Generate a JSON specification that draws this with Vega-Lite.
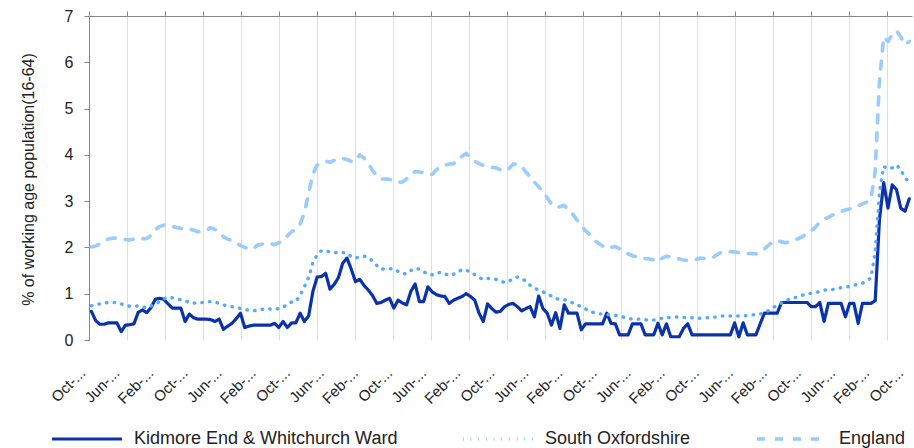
{
 "$schema": "https://vega.github.io/schema/vega-lite/v6.json",
 "width": 823, "height": 324,
 "autosize": {"type": "none"},
 "padding": {"left": 89, "top": 16, "right": 2, "bottom": 108},
 "background": "white",
 "config": {"view": {"stroke": null}, "font": "Liberation Sans"},
 "data": {"values": [
{"m":0,"k":0.62,"o":0.74,"e":2.01},{"m":1,"k":0.42,"o":0.76,"e":2.03},{"m":2,"k":0.34,"o":0.78,"e":2.08},{"m":3,"k":0.34,"o":0.8,"e":2.15},{"m":4,"k":0.37,"o":0.81,"e":2.18},{"m":5,"k":0.37,"o":0.81,"e":2.2},{"m":6,"k":0.37,"o":0.81,"e":2.2},{"m":7,"k":0.18,"o":0.78,"e":2.18},{"m":8,"k":0.32,"o":0.75,"e":2.17},{"m":9,"k":0.33,"o":0.73,"e":2.16},
{"m":10,"k":0.35,"o":0.72,"e":2.18},{"m":11,"k":0.6,"o":0.74,"e":2.2},{"m":12,"k":0.65,"o":0.72,"e":2.19},{"m":13,"k":0.59,"o":0.69,"e":2.19},{"m":14,"k":0.7,"o":0.73,"e":2.26},{"m":15,"k":0.88,"o":0.78,"e":2.38},{"m":16,"k":0.9,"o":0.83,"e":2.45},{"m":17,"k":0.88,"o":0.89,"e":2.48},{"m":18,"k":0.78,"o":0.93,"e":2.47},{"m":19,"k":0.69,"o":0.91,"e":2.45},
{"m":20,"k":0.69,"o":0.89,"e":2.43},{"m":21,"k":0.69,"o":0.87,"e":2.41},{"m":22,"k":0.4,"o":0.85,"e":2.41},{"m":23,"k":0.56,"o":0.81,"e":2.4},{"m":24,"k":0.48,"o":0.8,"e":2.37},{"m":25,"k":0.45,"o":0.79,"e":2.34},{"m":26,"k":0.45,"o":0.81,"e":2.34},{"m":27,"k":0.45,"o":0.83,"e":2.36},{"m":28,"k":0.44,"o":0.83,"e":2.43},{"m":29,"k":0.4,"o":0.82,"e":2.39},
{"m":30,"k":0.45,"o":0.79,"e":2.32},{"m":31,"k":0.23,"o":0.76,"e":2.23},{"m":32,"k":0.3,"o":0.73,"e":2.18},{"m":33,"k":0.36,"o":0.72,"e":2.15},{"m":34,"k":0.46,"o":0.71,"e":2.1},{"m":35,"k":0.58,"o":0.68,"e":2.04},{"m":36,"k":0.27,"o":0.66,"e":2.0},{"m":37,"k":0.3,"o":0.64,"e":1.97},{"m":38,"k":0.32,"o":0.63,"e":1.97},{"m":39,"k":0.32,"o":0.65,"e":2.05},
{"m":40,"k":0.32,"o":0.66,"e":2.07},{"m":41,"k":0.32,"o":0.68,"e":2.09},{"m":42,"k":0.32,"o":0.67,"e":2.08},{"m":43,"k":0.36,"o":0.66,"e":2.06},{"m":44,"k":0.27,"o":0.68,"e":2.1},{"m":45,"k":0.4,"o":0.71,"e":2.16},{"m":46,"k":0.27,"o":0.77,"e":2.25},{"m":47,"k":0.37,"o":0.82,"e":2.34},{"m":48,"k":0.37,"o":0.83,"e":2.39},{"m":49,"k":0.58,"o":0.97,"e":2.5},
{"m":50,"k":0.4,"o":1.15,"e":2.75},{"m":51,"k":0.52,"o":1.35,"e":3.18},{"m":52,"k":1.05,"o":1.67,"e":3.58},{"m":53,"k":1.36,"o":1.84,"e":3.78},{"m":54,"k":1.37,"o":1.93,"e":3.84},{"m":55,"k":1.44,"o":1.93,"e":3.86},{"m":56,"k":1.1,"o":1.9,"e":3.84},{"m":57,"k":1.2,"o":1.88,"e":3.88},{"m":58,"k":1.35,"o":1.9,"e":3.93},{"m":59,"k":1.66,"o":1.89,"e":3.92},
{"m":60,"k":1.77,"o":1.88,"e":3.9},{"m":61,"k":1.53,"o":1.8,"e":3.86},{"m":62,"k":1.26,"o":1.77,"e":3.86},{"m":63,"k":1.31,"o":1.8,"e":4.0},{"m":64,"k":1.18,"o":1.81,"e":3.93},{"m":65,"k":1.08,"o":1.78,"e":3.82},{"m":66,"k":0.96,"o":1.71,"e":3.66},{"m":67,"k":0.79,"o":1.61,"e":3.55},{"m":68,"k":0.81,"o":1.53,"e":3.48},{"m":69,"k":0.86,"o":1.54,"e":3.48},
{"m":70,"k":0.9,"o":1.54,"e":3.47},{"m":71,"k":0.69,"o":1.54,"e":3.44},{"m":72,"k":0.86,"o":1.48,"e":3.41},{"m":73,"k":0.8,"o":1.43,"e":3.41},{"m":74,"k":0.76,"o":1.43,"e":3.48},{"m":75,"k":1.05,"o":1.5,"e":3.58},{"m":76,"k":1.21,"o":1.55,"e":3.64},{"m":77,"k":0.83,"o":1.53,"e":3.63},{"m":78,"k":0.83,"o":1.48,"e":3.61},{"m":79,"k":1.15,"o":1.41,"e":3.59},
{"m":80,"k":1.04,"o":1.41,"e":3.58},{"m":81,"k":0.98,"o":1.43,"e":3.68},{"m":82,"k":0.95,"o":1.47,"e":3.74},{"m":83,"k":0.94,"o":1.43,"e":3.78},{"m":84,"k":0.79,"o":1.39,"e":3.8},{"m":85,"k":0.86,"o":1.42,"e":3.81},{"m":86,"k":0.9,"o":1.47,"e":3.87},{"m":87,"k":0.94,"o":1.52,"e":3.97},{"m":88,"k":1.0,"o":1.5,"e":4.03},{"m":89,"k":0.94,"o":1.48,"e":3.93},
{"m":90,"k":0.86,"o":1.41,"e":3.86},{"m":91,"k":0.58,"o":1.35,"e":3.81},{"m":92,"k":0.4,"o":1.31,"e":3.77},{"m":93,"k":0.78,"o":1.33,"e":3.74},{"m":94,"k":0.68,"o":1.33,"e":3.73},{"m":95,"k":0.6,"o":1.31,"e":3.72},{"m":96,"k":0.62,"o":1.28,"e":3.68},{"m":97,"k":0.72,"o":1.24,"e":3.65},{"m":98,"k":0.77,"o":1.27,"e":3.7},{"m":99,"k":0.79,"o":1.32,"e":3.8},
{"m":100,"k":0.72,"o":1.36,"e":3.8},{"m":101,"k":0.63,"o":1.33,"e":3.75},{"m":102,"k":0.68,"o":1.27,"e":3.63},{"m":103,"k":0.72,"o":1.18,"e":3.52},{"m":104,"k":0.5,"o":1.12,"e":3.41},{"m":105,"k":0.95,"o":1.08,"e":3.31},{"m":106,"k":0.68,"o":1.04,"e":3.22},{"m":107,"k":0.58,"o":0.99,"e":3.07},{"m":108,"k":0.32,"o":0.95,"e":2.94},{"m":109,"k":0.59,"o":0.9,"e":2.86},
{"m":110,"k":0.25,"o":0.87,"e":2.88},{"m":111,"k":0.76,"o":0.87,"e":2.91},{"m":112,"k":0.58,"o":0.85,"e":2.81},{"m":113,"k":0.58,"o":0.8,"e":2.72},{"m":114,"k":0.58,"o":0.76,"e":2.59},{"m":115,"k":0.22,"o":0.72,"e":2.47},{"m":116,"k":0.35,"o":0.67,"e":2.36},{"m":117,"k":0.35,"o":0.62,"e":2.28},{"m":118,"k":0.35,"o":0.59,"e":2.16},{"m":119,"k":0.35,"o":0.57,"e":2.09},
{"m":120,"k":0.35,"o":0.56,"e":2.03},{"m":121,"k":0.58,"o":0.55,"e":1.98},{"m":122,"k":0.36,"o":0.54,"e":2.0},{"m":123,"k":0.35,"o":0.53,"e":2.02},{"m":124,"k":0.11,"o":0.52,"e":1.97},{"m":125,"k":0.11,"o":0.49,"e":1.92},{"m":126,"k":0.11,"o":0.47,"e":1.86},{"m":127,"k":0.35,"o":0.45,"e":1.82},{"m":128,"k":0.35,"o":0.45,"e":1.8},{"m":129,"k":0.35,"o":0.45,"e":1.78},
{"m":130,"k":0.11,"o":0.44,"e":1.76},{"m":131,"k":0.11,"o":0.42,"e":1.75},{"m":132,"k":0.11,"o":0.43,"e":1.73},{"m":133,"k":0.36,"o":0.45,"e":1.69},{"m":134,"k":0.11,"o":0.47,"e":1.77},{"m":135,"k":0.35,"o":0.48,"e":1.81},{"m":136,"k":0.07,"o":0.49,"e":1.79},{"m":137,"k":0.07,"o":0.5,"e":1.77},{"m":138,"k":0.07,"o":0.49,"e":1.75},{"m":139,"k":0.25,"o":0.49,"e":1.73},
{"m":140,"k":0.35,"o":0.48,"e":1.72},{"m":141,"k":0.11,"o":0.48,"e":1.73},{"m":142,"k":0.11,"o":0.47,"e":1.74},{"m":143,"k":0.11,"o":0.47,"e":1.77},{"m":144,"k":0.11,"o":0.48,"e":1.76},{"m":145,"k":0.11,"o":0.48,"e":1.75},{"m":146,"k":0.11,"o":0.49,"e":1.79},{"m":147,"k":0.11,"o":0.5,"e":1.85},{"m":148,"k":0.11,"o":0.52,"e":1.9},{"m":149,"k":0.11,"o":0.52,"e":1.91},
{"m":150,"k":0.11,"o":0.52,"e":1.91},{"m":151,"k":0.37,"o":0.52,"e":1.9},{"m":152,"k":0.07,"o":0.52,"e":1.89},{"m":153,"k":0.37,"o":0.52,"e":1.88},{"m":154,"k":0.11,"o":0.53,"e":1.87},{"m":155,"k":0.11,"o":0.54,"e":1.87},{"m":156,"k":0.11,"o":0.55,"e":1.86},{"m":157,"k":0.35,"o":0.56,"e":1.91},{"m":158,"k":0.58,"o":0.59,"e":1.97},{"m":159,"k":0.58,"o":0.64,"e":2.05},
{"m":160,"k":0.58,"o":0.7,"e":2.13},{"m":161,"k":0.58,"o":0.75,"e":2.15},{"m":162,"k":0.81,"o":0.8,"e":2.12},{"m":163,"k":0.81,"o":0.85,"e":2.1},{"m":164,"k":0.81,"o":0.89,"e":2.13},{"m":165,"k":0.81,"o":0.91,"e":2.16},{"m":166,"k":0.81,"o":0.94,"e":2.19},{"m":167,"k":0.81,"o":0.97,"e":2.24},{"m":168,"k":0.81,"o":1.0,"e":2.3},{"m":169,"k":0.72,"o":1.01,"e":2.36},
{"m":170,"k":0.72,"o":1.02,"e":2.44},{"m":171,"k":0.81,"o":1.05,"e":2.55},{"m":172,"k":0.4,"o":1.08,"e":2.61},{"m":173,"k":0.79,"o":1.08,"e":2.65},{"m":174,"k":0.79,"o":1.09,"e":2.7},{"m":175,"k":0.79,"o":1.11,"e":2.75},{"m":176,"k":0.79,"o":1.13,"e":2.78},{"m":177,"k":0.5,"o":1.14,"e":2.81},{"m":178,"k":0.79,"o":1.16,"e":2.83},{"m":179,"k":0.79,"o":1.18,"e":2.86},
{"m":180,"k":0.36,"o":1.21,"e":2.9},{"m":181,"k":0.79,"o":1.23,"e":2.94},{"m":182,"k":0.79,"o":1.27,"e":2.98},{"m":183,"k":0.79,"o":1.34,"e":3.04},{"m":184,"k":0.85,"o":1.9,"e":3.65},{"m":185,"k":2.6,"o":3.2,"e":5.6},{"m":186,"k":3.4,"o":3.75,"e":6.55},{"m":187,"k":2.85,"o":3.7,"e":6.45},{"m":188,"k":3.35,"o":3.72,"e":6.6},{"m":189,"k":3.25,"o":3.78,"e":6.68},
{"m":190,"k":2.85,"o":3.68,"e":6.55},{"m":191,"k":2.78,"o":3.5,"e":6.38},{"m":192,"k":3.05,"o":3.42,"e":6.45}
 ]},
 "transform": [{"fold": ["k", "o", "e"], "as": ["series", "value"]}],
 "layer": [
  {
   "mark": {"type": "line", "strokeCap": "round", "strokeJoin": "round"},
   "encoding": {
    "x": {"field": "m", "type": "quantitative",
      "scale": {"domain": [-0.56, 192.64], "nice": false, "zero": false},
      "axis": {"values": [0,8,16,24,32,40,48,56,64,72,80,88,96,104,112,120,128,136,144,152,160,168,176,184,192],
        "labelExpr": "['Oct-...','Jun-...','Feb-...'][round(datum.value/8)%3]",
        "labelAngle": -45, "labelAlign": "right", "labelBaseline": "middle",
        "labelOffset": -9, "labelPadding": 30, "ticks": false, "domain": false, "grid": false,
        "labelFontSize": 15, "labelColor": "#222222", "title": null, "labelOverlap": false, "labelBound": false, "labelFlush": false}},
    "y": {"field": "value", "type": "quantitative",
      "scale": {"domain": [0, 7], "nice": false},
      "axis": {"values": [0,1,2,3,4,5,6,7], "grid": false, "domainColor": "#868686", "tickColor": "#868686", "tickSize": 5,
        "labelFontSize": 16, "labelColor": "#222222", "labelPadding": 11,
        "title": "% of working age population(16-64)", "titleFontSize": 16, "titleFontWeight": "normal", "titleColor": "#222222",
        "titleX": -53, "titleY": 163, "titleAngle": -90, "titleBaseline": "bottom", "titleAlign": "center"}},
    "color": {"field": "series", "type": "nominal",
      "scale": {"domain": ["k", "o", "e"], "range": ["#0a32aa", "#55aaff", "#99ccff"]},
      "legend": {"orient": "none", "legendX": -39, "legendY": 386, "direction": "horizontal", "title": null,
        "symbolType": "stroke", "symbolSize": 4900, "symbolStrokeWidth": 2, "labelFontSize": 18, "labelColor": "#222222",
        "labelOffset": 10, "columnPadding": 58, "labelLimit": 400, "padding": 0,
        "labelExpr": "datum.label == 'k' ? 'Kidmore End & Whitchurch Ward' : datum.label == 'o' ? 'South Oxfordshire' : 'England'"}},
    "strokeDash": {"field": "series", "type": "nominal",
      "scale": {"domain": ["k", "o", "e"], "range": [[1, 0], [0.5, 7.2], [8, 10]]},
      "legend": {"orient": "none", "legendX": -39, "legendY": 386, "direction": "horizontal", "title": null,
        "symbolType": "stroke", "symbolSize": 4900, "symbolStrokeWidth": 2, "labelFontSize": 18, "labelColor": "#222222",
        "labelOffset": 10, "columnPadding": 58, "labelLimit": 400, "padding": 0,
        "labelExpr": "datum.label == 'k' ? 'Kidmore End & Whitchurch Ward' : datum.label == 'o' ? 'South Oxfordshire' : 'England'"}},
    "strokeWidth": {"field": "series", "type": "nominal",
      "scale": {"domain": ["k", "o", "e"], "range": [3.2, 3.6, 4]}, "legend": null}
   }
  },
  {
   "mark": {"type": "line", "opacity": 0},
   "encoding": {
    "x": {"field": "m", "type": "quantitative",
      "axis": {"values": [-0.5, 8.42, 17.34, 26.25, 35.16, 44.08, 52.99, 61.9, 70.81, 79.73, 88.64, 97.55, 106.47, 115.38, 124.29, 133.2, 142.12, 151.03, 159.94, 168.86, 177.77, 186.68],
        "labels": false, "ticks": true, "tickSize": 5, "tickColor": "#868686", "grid": true, "gridColor": "#dedede", "gridWidth": 1,
        "domain": true, "domainColor": "#868686", "title": null}},
    "y": {"field": "value", "type": "quantitative", "axis": null},
    "detail": {"field": "series", "type": "nominal"}
   }
  }
 ],
 "resolve": {"axis": {"x": "independent", "y": "independent"}}
}
